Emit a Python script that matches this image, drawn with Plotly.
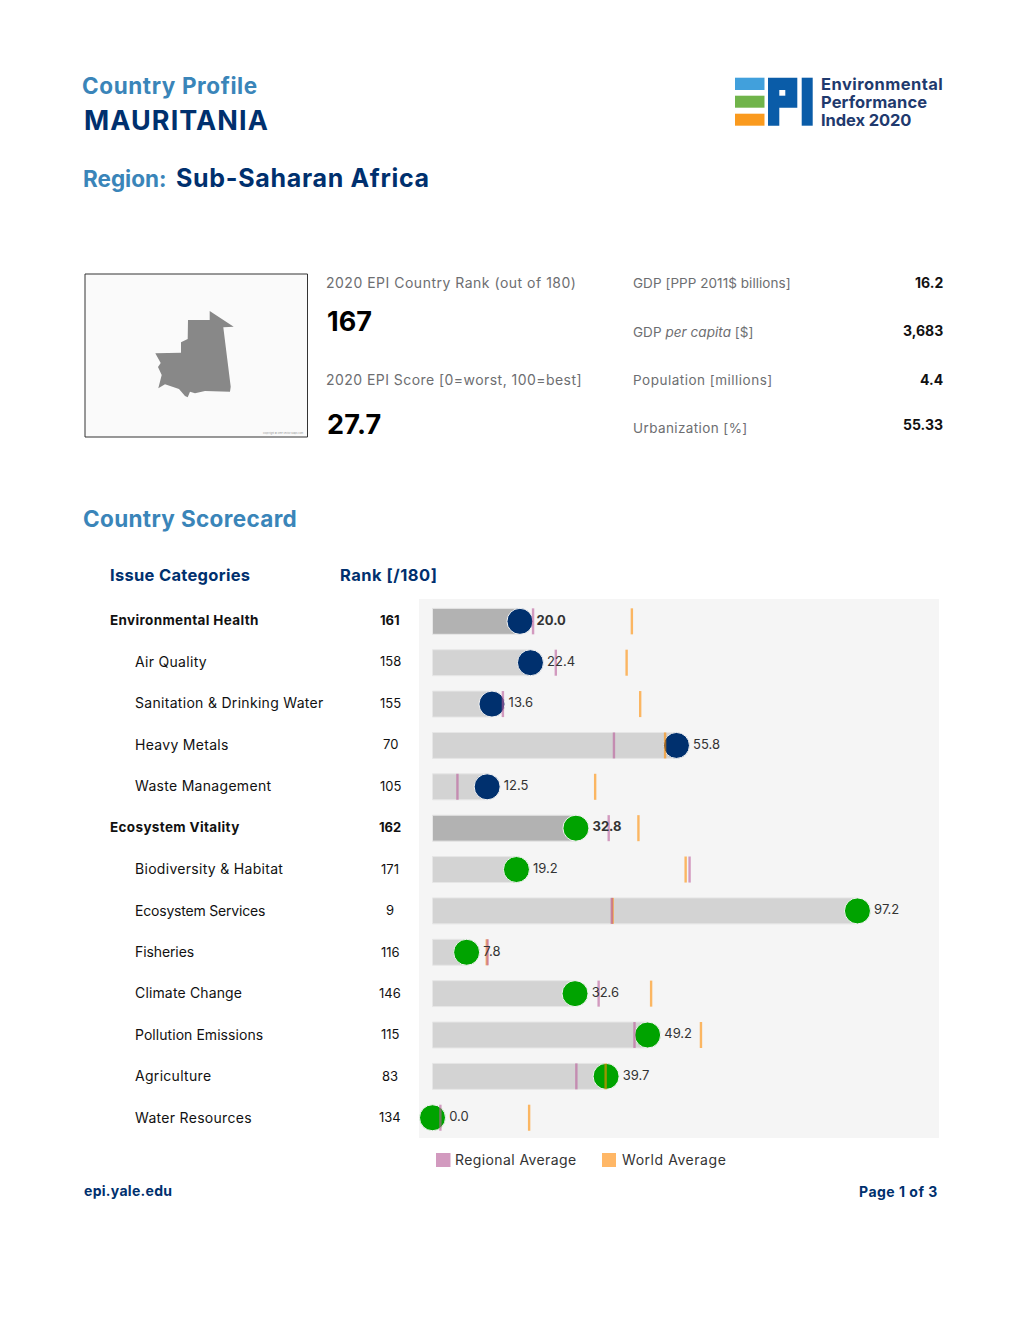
import plotly.graph_objects as go

W, H = 1020, 1320
FONT = "Inter, 'Open Sans', sans-serif"
NAVY = "#00306e"
STEEL = "#3a85b9"
GREY = "#6d6e71"

categories = ["Environmental Health", "Air Quality", "Sanitation & Drinking Water", "Heavy Metals",
              "Waste Management", "Ecosystem Vitality", "Biodiversity & Habitat", "Ecosystem Services",
              "Fisheries", "Climate Change", "Pollution Emissions", "Agriculture", "Water Resources"]
ranks = [161, 158, 155, 70, 105, 162, 171, 9, 116, 146, 115, 83, 134]
scores = [20.0, 22.4, 13.6, 55.8, 12.5, 32.8, 19.2, 97.2, 7.8, 32.6, 49.2, 39.7, 0.0]
regional = [23.0, 28.2, 16.1, 41.5, 5.7, 40.3, 58.8, 41.0, 12.6, 38.0, 46.2, 32.9, 1.8]
world = [45.6, 44.4, 47.5, 53.2, 37.2, 47.1, 57.9, 41.2, 12.4, 50.0, 61.4, 39.6, 22.1]
summary_rows = ["Environmental Health", "Ecosystem Vitality"]
health_rows = ["Environmental Health", "Air Quality", "Sanitation & Drinking Water", "Heavy Metals", "Waste Management"]
stats_labels = ["GDP [PPP 2011$ billions]", "GDP <i>per capita</i> [$]", "Population [millions]", "Urbanization [%]"]
stats_values = ["16.2", "3,683", "4.4", "55.33"]

bar_colors = ["#b2b2b2" if c in summary_rows else "#d3d3d3" for c in categories]
dot_colors = [NAVY if c in health_rows else "#00a300" for c in categories]


def px(x):
    return x / W


def py(y):
    return 1 - y / H


fig = go.Figure()
fig.add_bar(y=categories, x=scores, orientation="h", width=0.627,
            marker=dict(color=bar_colors, line=dict(color="#e6e6e6", width=1)),
            showlegend=False, hoverinfo="skip")
fig.add_scatter(y=categories, x=scores, mode="markers", showlegend=False, name="Score",
                marker=dict(size=26, color=dot_colors, line=dict(color="#f4f4f4", width=1)), cliponaxis=False)
fig.add_scatter(y=categories, x=world, mode="markers", name="World Average", showlegend=False,
                marker=dict(symbol="line-ns", size=18.6, line=dict(color="rgba(255,140,0,0.6)", width=2.4)))
fig.add_scatter(y=categories, x=regional, mode="markers", name="Regional Average", showlegend=False,
                marker=dict(symbol="line-ns", size=18.6, line=dict(color="rgba(187,93,155,0.6)", width=2.4)))
fig.add_scatter(y=categories, x=scores, mode="markers+text", showlegend=False, name="Label",
                marker=dict(size=25, opacity=0),
                text=[("<b>%.1f</b>" % v) if c in summary_rows else "%.1f" % v for v, c in zip(scores, categories)],
                textposition="middle right", textfont=dict(family=FONT, size=13, color="#333333"), cliponaxis=False)

annotations = []


def text(x, y, s, size, color="#000000", bold=False, anchor="left", track=0.0):
    body = f"<b>{s}</b>" if bold else s
    if track:
        body = f"<span style='letter-spacing:{track}px'>{body}</span>"
    annotations.append(dict(xref="paper", yref="paper", x=px(x), y=py(y), text=body,
                            showarrow=False, xanchor=anchor, yanchor="middle", align=anchor,
                            font=dict(family=FONT, size=size, color=color),
                            borderpad=0, borderwidth=0))


text(82, 85.5, "Country Profile", 22.5, STEEL, True, track=0.6)
text(84, 120, "MAURITANIA", 27, NAVY, True, track=1.1)
text(83, 178, "Region:", 22.5, STEEL, True)
text(175.5, 178, "Sub-Saharan Africa", 25, NAVY, True, track=0.7)
text(83, 518.5, "Country Scorecard", 22.5, STEEL, True, track=0.35)
text(110, 575, "Issue Categories", 16.5, NAVY, True, track=0.3)
text(340, 575, "Rank [/180]", 16.5, NAVY, True, track=0.5)

text(326, 282, "2020 EPI Country Rank (out of 180)", 14, GREY, track=0.5)
text(327, 321, "167", 27, "#000000", True)
text(326, 380, "2020 EPI Score [0=worst, 100=best]", 14, GREY, track=0.45)
text(327, 424, "27.7", 27, "#000000", True, track=0.3)
for lab, val, yl, yv, tr in zip(stats_labels, stats_values, [283, 332, 380, 428], [282, 331, 380, 424.5],
                                [0.05, 0.05, 0.5, 0.4]):
    text(633, yl, lab, 13.5, GREY, track=tr)
    text(943, yv, val, 14, "#111111", True, "right")

row_track = {"Ecosystem Services": -0.2, "Fisheries": -0.1, "Pollution Emissions": 0.05, "Climate Change": 0.15}
row_ys = [620 + 41.44 * i for i in range(len(categories))]
for c, r, y in zip(categories, ranks, row_ys):
    main = c in summary_rows
    if main:
        text(110, y, c, 13.5, "#111111", True, track=0.35)
    else:
        text(135, y, c, 14, "#111111", False, track=row_track.get(c, 0.3))
    text(390, y, str(r), 13, "#111111", main, "center")

text(455, 1159.5, "Regional Average", 14, "#333333", track=0.4)
text(621.5, 1159.5, "World Average", 14, "#333333", track=0.55)
text(84, 1190.5, "epi.yale.edu", 14, NAVY, True, track=0.3)
text(938, 1191.5, "Page 1 of 3", 14, NAVY, True, "right", track=0.5)
text(820.5, 84, "Environmental", 16.5, "#1f3a6e", True, track=0.45)
text(820.5, 102, "Performance", 16.5, "#1f3a6e", True, track=0.1)
text(820.5, 120, "Index 2020", 16.5, "#1f3a6e", True, track=-0.1)
text(303, 433, "Copyright © Free Vector Maps.com", 2.4, "#999999", False, "right")

shapes = []


def rect(x0, y0, x1, y1, fill, line=None, lw=0):
    shapes.append(dict(type="rect", xref="paper", yref="paper", x0=px(x0), x1=px(x1), y0=py(y0), y1=py(y1),
                       fillcolor=fill, line=dict(color=line or fill, width=lw), layer="above"))


def poly(points, fill):
    d = "M " + " L ".join(f"{px(a):.5f},{py(b):.5f}" for a, b in points) + " Z"
    shapes.append(dict(type="path", xref="paper", yref="paper", path=d, fillcolor=fill, line=dict(width=0), layer="above"))


rect(85, 274, 307.5, 437, "#fafafa", "#333333", 1)
poly([(209.7, 311), (233.7, 326.7), (223.3, 327.3), (230.7, 386.7), (230, 391.7), (205, 391), (195, 393.3), (190, 391.7),
      (187.7, 397.3), (185, 396), (179, 389), (165, 384.3), (158.3, 388.3), (161.7, 375), (158, 367), (160.7, 363),
      (155.3, 353.3), (181, 352.7), (181, 342.3), (187.7, 339), (188, 320), (209.7, 320)], "#888888")
rect(735, 77.7, 764.5, 90, "#41a0dc")
rect(735, 95.7, 764.5, 107.7, "#70b44a")
rect(735, 113.7, 764.5, 125.7, "#fa9a1e")
poly([(768, 77.7), (797.3, 77.7), (797.3, 107.7), (779.3, 107.7), (779.3, 125.7), (768, 125.7)], "#0a5ca8")
rect(779.3, 90, 785.3, 95.7, "#ffffff")
rect(801.7, 77.7, 812.7, 125.7, "#0a5ca8")
rect(436, 1153, 450.5, 1167, "#d29abf")
rect(602, 1153, 616, 1167, "#ffb766")

fig.update_layout(
    width=W, height=H, margin=dict(l=0, r=0, t=0, b=0), paper_bgcolor="#ffffff", plot_bgcolor="#f5f5f5",
    barmode="overlay", showlegend=False, annotations=annotations, shapes=shapes,
    xaxis=dict(domain=[px(419), px(939)], range=[-3.09, 115.85], visible=False, fixedrange=True),
    yaxis=dict(domain=[py(1138), py(599)], categoryorder="array", categoryarray=categories,
               range=[12.49, -0.54], visible=False, fixedrange=True),
)
fig.write_html("out.html", post_script="document.body.style.margin='0';", config={"displayModeBar": False})
